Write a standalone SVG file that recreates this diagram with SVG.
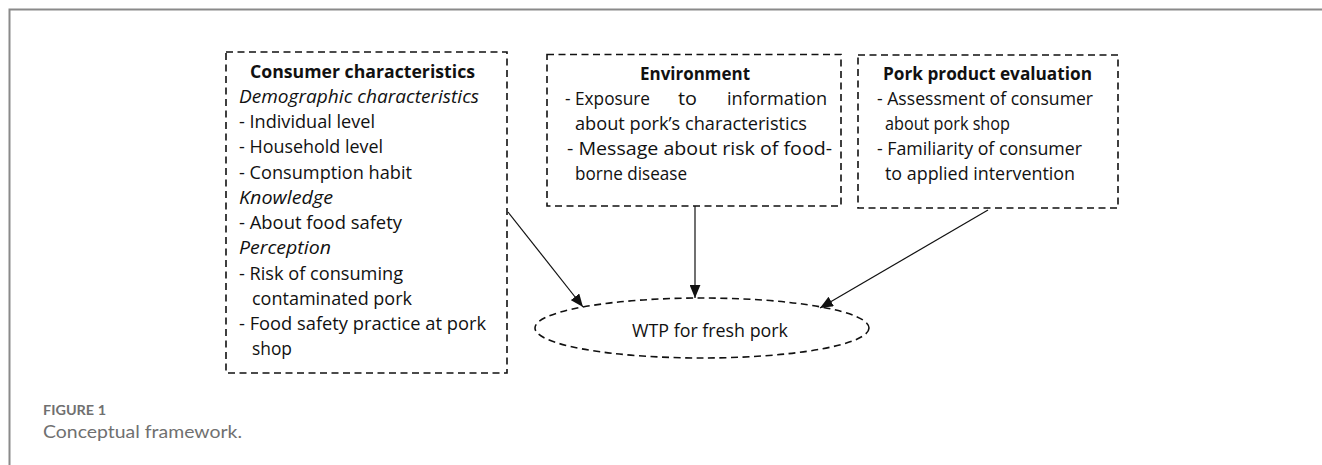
<svg xmlns="http://www.w3.org/2000/svg" width="1322" height="465" viewBox="0 0 1322 465">
<style>
.box{fill:none;stroke:#111;stroke-width:1.6;stroke-dasharray:7 4.5}
.t{font-family:"Open Sans","Liberation Sans",sans-serif;font-size:17.5px;fill:#111}
.b{font-weight:bold}
.i{font-style:italic}
.conn{stroke:#111;stroke-width:1.2;fill:none}
.cap{font-family:Lato,"Open Sans",sans-serif;fill:#707070}
</style>
<defs>
<marker id="ah" viewBox="0 0 12 10" refX="12" refY="5" markerWidth="13" markerHeight="11" markerUnits="userSpaceOnUse" orient="auto">
<path d="M0,0 L12,5 L0,10 z" fill="#111"/>
</marker>
</defs>
<rect width="1322" height="465" fill="#fff"/>
<path d="M9.5,465 V9.5 H1322" fill="none" stroke="#8a8a8a" stroke-width="2"/>

<g id="consumer">
<rect class="box" x="226" y="52" width="281" height="321"/>
<text class="t b" x="250" y="78" textLength="225" lengthAdjust="spacingAndGlyphs">Consumer characteristics</text>
<text class="t i" x="239" y="103" textLength="240" lengthAdjust="spacingAndGlyphs">Demographic characteristics</text>
<text class="t" x="239" y="128" textLength="136" lengthAdjust="spacingAndGlyphs">- Individual level</text>
<text class="t" x="239" y="153" textLength="144" lengthAdjust="spacingAndGlyphs">- Household level</text>
<text class="t" x="239" y="179" textLength="173" lengthAdjust="spacingAndGlyphs">- Consumption habit</text>
<text class="t i" x="239" y="204" textLength="94" lengthAdjust="spacingAndGlyphs">Knowledge</text>
<text class="t" x="239" y="229" textLength="163" lengthAdjust="spacingAndGlyphs">- About food safety</text>
<text class="t i" x="239" y="254" textLength="92" lengthAdjust="spacingAndGlyphs">Perception</text>
<text class="t" x="239" y="280" textLength="164" lengthAdjust="spacingAndGlyphs">- Risk of consuming</text>
<text class="t" x="252" y="305" textLength="160" lengthAdjust="spacingAndGlyphs">contaminated pork</text>
<text class="t" x="239" y="330" textLength="247" lengthAdjust="spacingAndGlyphs">- Food safety practice at pork</text>
<text class="t" x="252" y="355" textLength="40" lengthAdjust="spacingAndGlyphs">shop</text>
</g>

<g id="environment">
<rect class="box" x="547" y="54.5" width="294" height="151.5"/>
<text class="t b" x="640" y="80" textLength="110" lengthAdjust="spacingAndGlyphs">Environment</text>
<text class="t" x="565" y="105" textLength="85" lengthAdjust="spacingAndGlyphs">- Exposure</text>
<text class="t" x="678" y="105" textLength="19" lengthAdjust="spacingAndGlyphs">to</text>
<text class="t" x="727" y="105" textLength="100" lengthAdjust="spacingAndGlyphs">information</text>
<text class="t" x="575" y="130" textLength="232" lengthAdjust="spacingAndGlyphs">about pork’s characteristics</text>
<text class="t" x="567" y="155" textLength="265" lengthAdjust="spacingAndGlyphs">- Message about risk of food-</text>
<text class="t" x="575" y="180" textLength="112" lengthAdjust="spacingAndGlyphs">borne disease</text>
</g>

<g id="pork">
<rect class="box" x="858" y="55" width="260" height="153"/>
<text class="t b" x="883" y="80" textLength="209" lengthAdjust="spacingAndGlyphs">Pork product evaluation</text>
<text class="t" x="877" y="105" textLength="216" lengthAdjust="spacingAndGlyphs">- Assessment of consumer</text>
<text class="t" x="885" y="130" textLength="125" lengthAdjust="spacingAndGlyphs">about pork shop</text>
<text class="t" x="877" y="155" textLength="205" lengthAdjust="spacingAndGlyphs">- Familiarity of consumer</text>
<text class="t" x="885" y="180" textLength="190" lengthAdjust="spacingAndGlyphs">to applied intervention</text>
</g>

<g id="wtp">
<ellipse class="box" cx="702" cy="328" rx="167" ry="30"/>
<text class="t" x="632" y="337" textLength="156" lengthAdjust="spacingAndGlyphs">WTP for fresh pork</text>
</g>

<g id="connectors">
<line class="conn" x1="508" y1="212" x2="583" y2="307" marker-end="url(#ah)"/>
<line class="conn" x1="695" y1="206" x2="695" y2="298" marker-end="url(#ah)"/>
<line class="conn" x1="988" y1="210" x2="820" y2="308" marker-end="url(#ah)"/>
</g>

<g id="caption">
<text class="cap" x="43" y="415" font-size="13" font-weight="bold" textLength="63" lengthAdjust="spacingAndGlyphs">FIGURE 1</text>
<text class="cap" x="43" y="438" font-size="18" textLength="199" lengthAdjust="spacingAndGlyphs">Conceptual framework.</text>
</g>
</svg>
